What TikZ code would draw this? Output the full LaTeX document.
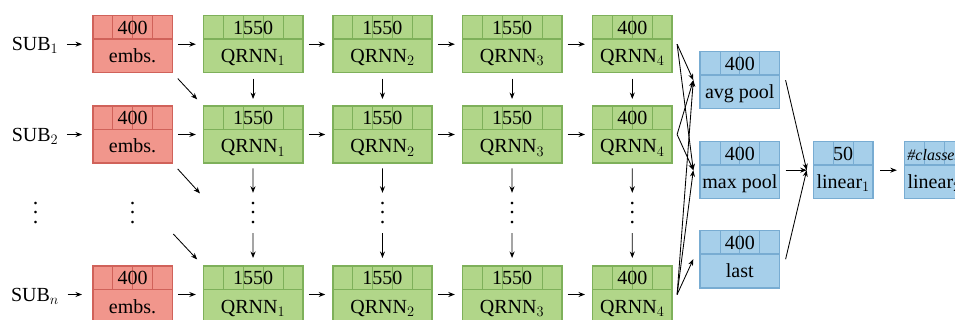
\documentclass[tikz,border=0pt]{standalone}
\usepackage{fontspec}
\setmainfont{Liberation Serif}
\usetikzlibrary{arrows.meta}
\definecolor{redfill}{RGB}{241,150,140}
\definecolor{reddraw}{RGB}{208,98,90}
\definecolor{greenfill}{RGB}{177,214,137}
\definecolor{greendraw}{RGB}{126,176,90}
\definecolor{bluefill}{RGB}{166,207,234}
\definecolor{bluedraw}{RGB}{120,172,210}
\tikzset{
  boxshape/.style={rectangle, inner sep=0pt, outer sep=0pt, minimum height=57pt, line width=1.6pt},
  cellline/.style={line width=0.7pt},
  divline/.style={line width=1.5pt},
  lbl/.style={inner sep=0pt, font=\fontsize{20pt}{24pt}\selectfont},
  sublbl/.style={inner sep=0pt, text depth=0pt, font=\fontsize{20pt}{24pt}\selectfont},
  dotsn/.style={inner sep=0pt, minimum height=30pt, font=\fontsize{22pt}{24pt}\selectfont},
  arr/.style={-{Stealth[length=6.5pt,width=5pt]}, line width=0.85pt},
  harr/.style={arr, shorten >=7.5pt, shorten <=6pt},
  varr/.style={arr, shorten >=7pt, shorten <=6pt},
}
\newcommand\blk[8]{%
  \node[boxshape, fill=#7, draw=#8, minimum width={#4*19.9pt}, anchor=north west] (#1) at (#2,#3) {};
  \pgfmathtruncatemacro\blkn{#4-1}%
  \foreach \k in {1,...,\blkn}{\draw[cellline,draw=#8] (#2+\k*19.9,#3) -- (#2+\k*19.9,#3+23.5);}
  \draw[divline,draw=#8] (#2,#3+23.5) -- (#2+#4*19.9,#3+23.5);
  \node[lbl, anchor=base] (#1h) at (#2+#4*9.95,#3+18.7) {#5};
  \node[lbl, anchor=base] (#1b) at (#2+#4*9.95,#3+47) {#6};
}
\newcommand\myvdots{\vbox{\baselineskip=9.7pt\hbox{.}\hbox{.}\hbox{.}}}
\begin{document}
\begin{tikzpicture}[x=1pt,y=-1pt]
\useasboundingbox (0,0) rectangle (955,320);
\fill[white] (0,0) rectangle (955,320);
\clip (0,0) rectangle (955,320);

% rows
\foreach \r/\y in {1/15.7,2/106,n/266}{
  \blk{e\r}{92.7}{\y}{4}{400}{embs.}{redfill}{reddraw}
  \blk{q\r1}{203.3}{\y}{5}{1550}{QRNN$_1$}{greenfill}{greendraw}
  \blk{q\r2}{332.7}{\y}{5}{1550}{QRNN$_2$}{greenfill}{greendraw}
  \blk{q\r3}{462.3}{\y}{5}{1550}{QRNN$_3$}{greenfill}{greendraw}
  \blk{q\r4}{592.5}{\y}{4}{400}{QRNN$_4$}{greenfill}{greendraw}
  \node[sublbl] (s\r) at (35,\y+28.5) {SUB$_\r$};
  \draw[harr, shorten <=8.4pt, shorten >=10.7pt] (s\r.east) -- (e\r.west);
  \draw[harr] (e\r.east) -- (q\r1.west);
  \draw[harr] (q\r1.east) -- (q\r2.west);
  \draw[harr] (q\r2.east) -- (q\r3.west);
  \draw[harr] (q\r3.east) -- (q\r4.west);
}

% pooling and output blocks
\blk{avg}{700}{51.7}{4}{400}{avg pool}{bluefill}{bluedraw}
\blk{max}{700}{141.7}{4}{400}{max pool}{bluefill}{bluedraw}
\blk{last}{700}{230.7}{4}{400}{last}{bluefill}{bluedraw}
\blk{lin1}{813.3}{141.7}{3}{50}{linear$_1$}{bluefill}{bluedraw}
\blk{lin2}{904.3}{141.7}{3}{\fontsize{16pt}{18pt}\selectfont\textit{\#classes}}{linear$_2$}{bluefill}{bluedraw}

% vertical dots
\node[dotsn] (ds) at (35.7,213) {\myvdots};
\node[dotsn] (de) at (132.5,213) {\myvdots};
\node[dotsn] (d1) at (253.0,213) {\myvdots};
\node[dotsn] (d2) at (382.5,213) {\myvdots};
\node[dotsn] (d3) at (512.0,213) {\myvdots};
\node[dotsn] (d4) at (632.3,213) {\myvdots};

% vertical arrows
\foreach \c in {1,2,3,4}{
  \draw[varr] (q1\c.south) -- (q2\c.north);
  \draw[arr, shorten <=5.3pt, shorten >=5pt] (q2\c.south) -- (d\c.north);
  \draw[arr, shorten <=5pt, shorten >=8pt] (d\c.south) -- (qn\c.north);
}

% diagonal arrows
\coordinate (de2) at (200,193.4);
\coordinate (den) at (173.3,234);
\draw[arr, shorten <=8pt, shorten >=9pt] (e1.south east) -- (q21.north west);
\draw[arr, shorten <=8pt] (e2.south east) -- (de2);
\draw[arr, shorten >=9pt] (den) -- (qn1.north west);

% to pooling
\draw[arr] ([xshift=5pt]q14.east) -- ([xshift=-6.7pt]avg.west);
\draw[arr] ([xshift=5pt]q14.east) -- ([xshift=-6.7pt]max.west);
\draw[arr] ([xshift=5pt]q24.east) -- ([xshift=-6.7pt]avg.west);
\draw[arr] ([xshift=5pt]q24.east) -- ([xshift=-6.7pt]max.west);
\draw[arr] ([xshift=5pt]qn4.east) -- ([xshift=-6.7pt]avg.west);
\draw[arr] ([xshift=5pt]qn4.east) -- ([xshift=-6.7pt]max.west);
\draw[arr] ([xshift=5pt]qn4.east) -- ([xshift=-6.7pt]last.west);

% to linear
\draw[arr] ([xshift=6pt]avg.east) -- ([xshift=-6.6pt]lin1.west);
\draw[arr] ([xshift=6pt]max.east) -- ([xshift=-6.6pt]lin1.west);
\draw[arr] ([xshift=6pt]last.east) -- ([xshift=-6.6pt]lin1.west);
\draw[harr, shorten <=7pt] (lin1.east) -- (lin2.west);
\end{tikzpicture}
\end{document}
